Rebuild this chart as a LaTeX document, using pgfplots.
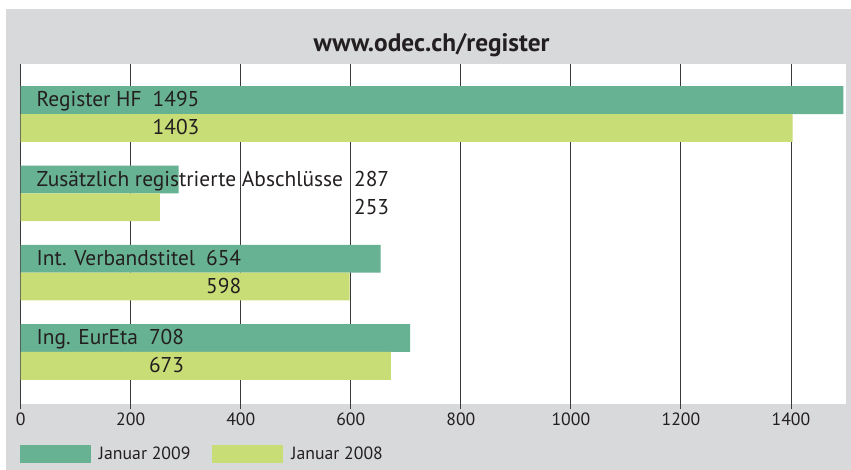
\documentclass[border=0pt]{standalone}
\usepackage{pgfplots}
\pgfplotsset{compat=1.18}
\usepackage{fontspec}
\setmainfont{PT Sans}
\definecolor{cgreen}{HTML}{68B294}
\definecolor{cyellow}{HTML}{C8DD76}
\definecolor{cgray}{HTML}{D8D9DB}
\definecolor{ctext}{HTML}{231F20}
\definecolor{cgrid}{HTML}{3A3A3A}
\newcommand{\barfont}{\fontsize{21.5}{24}\selectfont}
\newcommand{\tickfont}{\fontsize{17.8}{20}\selectfont}
\newcommand{\gap}{\hspace{11bp}}
\begin{document}
\begin{tikzpicture}
\path[use as bounding box] (0bp,0bp) rectangle (851bp,470bp);
\fill[cgray] (6bp,0bp) rectangle (851bp,461bp);
\node[anchor=base, font=\bfseries\fontsize{25.4}{30}\selectfont, text=ctext, inner sep=0pt] at (431.5bp,418.3bp) {www.odec.ch/register};
\begin{axis}[
  at={(20.7bp,66bp)}, anchor=south west,
  scale only axis, width=825.3bp, height=340bp,
  xmin=0, xmax=1500, ymin=-0.656, ymax=3.6305,
  axis line style={draw=none},
  axis background/.style={fill=white},
  xtick={0,200,...,1400}, ytick=\empty,
  xmajorgrids, major grid style={cgrid, line width=0.9bp},
  tick align=outside, xtick pos=bottom, major tick length=5bp,
  tick style={cgrid, line width=0.9bp},
  /pgf/number format/assume math mode=true,
  /pgf/number format/1000 sep={},
  xticklabel style={font=\tickfont, text=ctext},
  xbar, bar width=27.8bp,
  legend columns=2,
  legend style={at={(axis description cs:0,0)}, anchor=north west,
    xshift=-0.7bp, yshift=-41bp, draw=none, fill=none,
    inner sep=0pt, outer sep=0pt, font=\tickfont, text=ctext,
    nodes={inner sep=0pt},
    /tikz/every odd column/.append style={column sep=8bp},
    /tikz/every even column/.append style={column sep=22bp}},
]
\addplot[fill=cgreen, draw=none, bar shift=13.9bp,
  legend image code/.code={\fill[cgreen] (0bp,-9.1bp) rectangle (71bp,8.9bp);}]
  coordinates {(1495,3) (287,2) (654,1) (708,0)};
\addlegendentry{Januar 2009}
\addplot[fill=cyellow, draw=none, bar shift=-13.9bp,
  legend image code/.code={\fill[cyellow] (0bp,-9.1bp) rectangle (71bp,8.9bp);}]
  coordinates {(1403,3) (253,2) (598,1) (673,0)};
\addlegendentry{Januar 2008}
\tikzset{lbl/.style={anchor=base west, inner sep=0pt, font=\barfont, text=ctext, xshift=15.8bp}}
\node[lbl, yshift=7.1bp] at (axis cs:0,3) {Register HF\gap1495};
\node[lbl, yshift=-20.7bp] at (axis cs:0,3) {\phantom{Register HF\gap}1403};
\node[lbl, yshift=7.1bp] at (axis cs:0,2) {Zusätzlich registrierte Abschlüsse\gap287};
\node[lbl, yshift=-20.7bp] at (axis cs:0,2) {\phantom{Zusätzlich registrierte Abschlüsse\gap}253};
\node[lbl, yshift=7.1bp] at (axis cs:0,1) {Int. Verbandstitel\gap654};
\node[lbl, yshift=-20.7bp] at (axis cs:0,1) {\phantom{Int. Verbandstitel\gap}598};
\node[lbl, yshift=7.1bp] at (axis cs:0,0) {Ing. EurEta\gap708};
\node[lbl, yshift=-20.7bp] at (axis cs:0,0) {\phantom{Ing. EurEta\gap}673};
\end{axis}
\end{tikzpicture}
\end{document}
